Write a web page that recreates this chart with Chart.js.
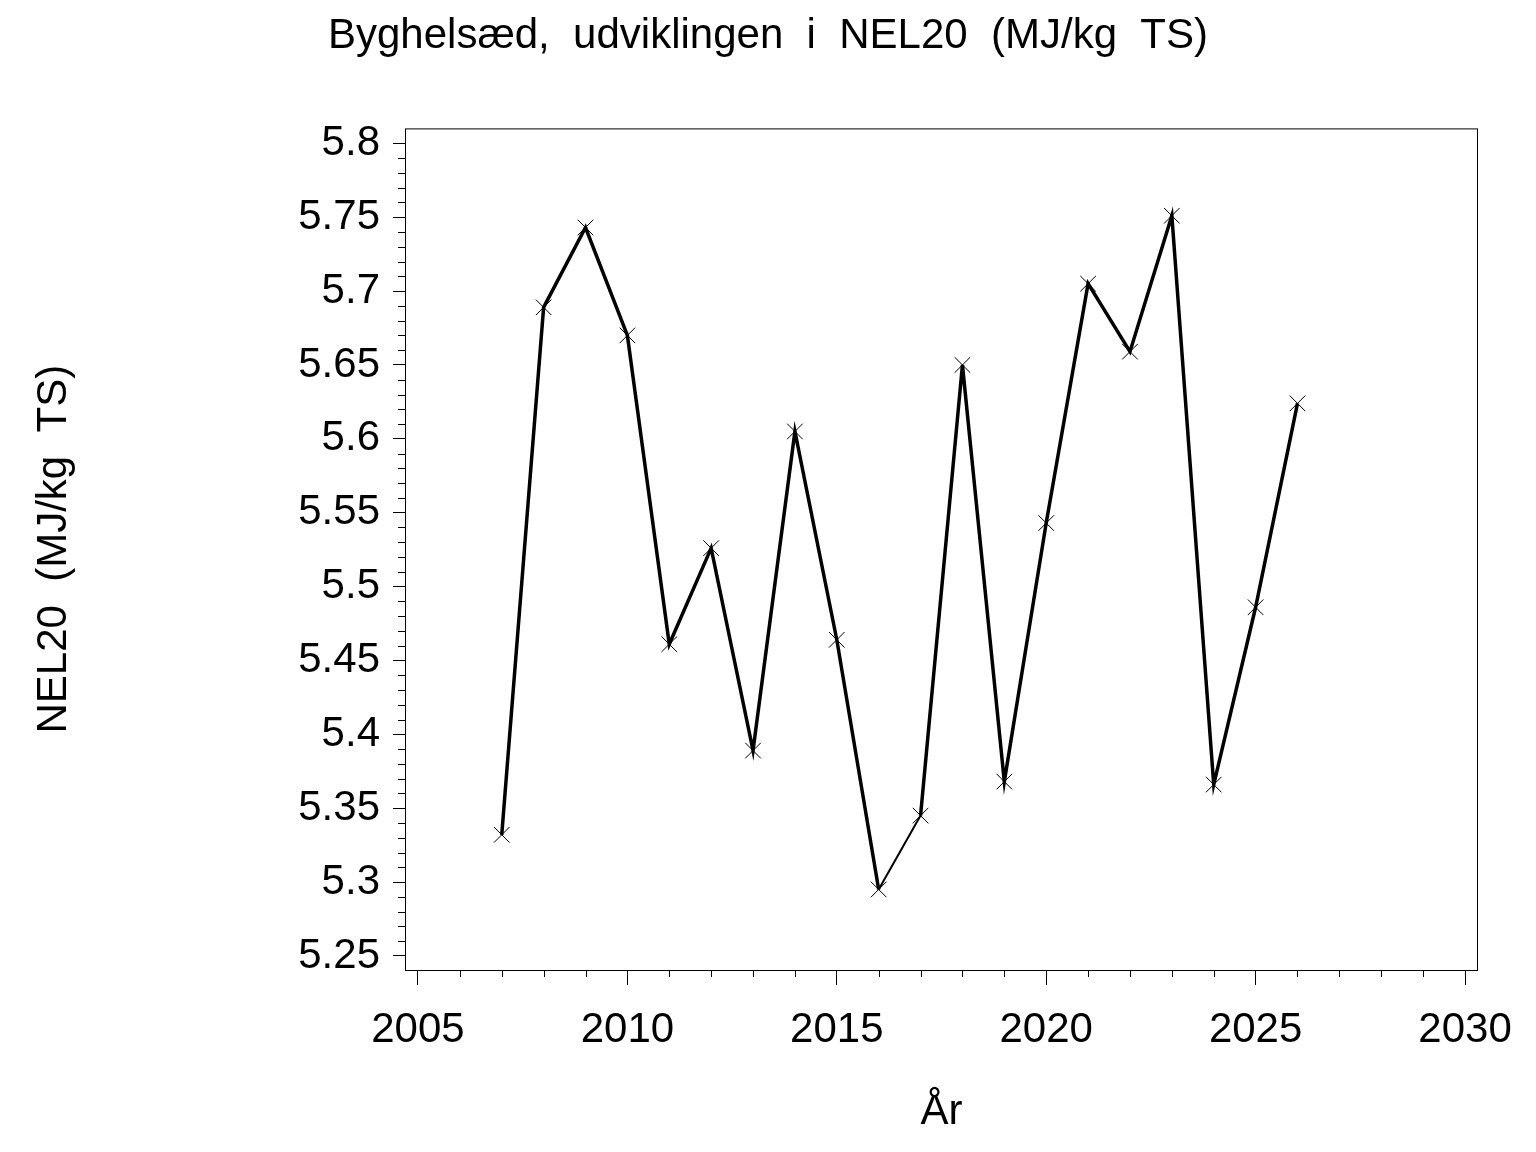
<!DOCTYPE html>
<html>
<head>
<meta charset="utf-8">
<script src="https://cdn.jsdelivr.net/npm/chart.js@4.4.1/dist/chart.umd.min.js"></script>
<style>
  html, body { margin: 0; padding: 0; background: #fff; }
  canvas { display: block; }
</style>
</head>
<body>
<canvas id="chart-nel" width="1536" height="1152"></canvas>
<script>
// data
const years = [2007, 2008, 2009, 2010, 2011, 2012, 2013, 2014, 2015, 2016,
               2017, 2018, 2019, 2020, 2021, 2022, 2023, 2024, 2025, 2026];
const nel20 = [5.332, 5.689, 5.743, 5.670, 5.461, 5.526, 5.389, 5.605, 5.464, 5.295,
               5.345, 5.650, 5.368, 5.543, 5.705, 5.659, 5.751, 5.366, 5.486, 5.624];
const xTicks = [2005, 2010, 2015, 2020, 2025, 2030];
const yTicks = [5.25, 5.3, 5.35, 5.4, 5.45, 5.5, 5.55, 5.6, 5.65, 5.7, 5.75, 5.8];

const titleText = 'Byghelsæd,  udviklingen  i  NEL20  (MJ/kg  TS)';
const yTitle = 'NEL20  (MJ/kg  TS)';
const xTitle = 'År';

const FONT = 'Liberation Sans, Arial, Helvetica, sans-serif';

// frame + minor ticks, sas-style
const framePlugin = {
  id: 'frame',
  beforeDatasetsDraw(chart) {
    const { ctx, chartArea: a, scales } = chart;
    ctx.save();
    ctx.strokeStyle = '#000';
    ctx.lineWidth = 1;
    ctx.strokeRect(a.left + 0.5, a.top + 0.5, a.right - a.left - 1, a.bottom - a.top);
    ctx.beginPath();
    for (let y = 2005; y <= 2030; y++) {
      if (y % 5 === 0) continue;
      const px = Math.round(scales.x.getPixelForValue(y)) + 0.5;
      ctx.moveTo(px, a.bottom);
      ctx.lineTo(px, a.bottom + 7);
    }
    for (let i = 525; i <= 580; i++) {
      if (i % 5 === 0) continue;
      const py = Math.round(scales.y.getPixelForValue(i / 100)) + 0.5;
      ctx.moveTo(a.left - 7, py);
      ctx.lineTo(a.left, py);
    }
    ctx.stroke();
    ctx.restore();
  }
};

const ctx = document.getElementById('chart-nel');
new Chart(ctx, {
  type: 'line',
  data: {
    datasets: [{
      label: 'NEL20',
      data: years.map((y, i) => ({ x: y, y: nel20[i] })),
      borderColor: '#000',
      borderWidth: 3.5,
      tension: 0,
      fill: false,
      pointStyle: 'crossRot',
      pointRadius: 11,
      pointBorderWidth: 1,
      pointBorderColor: '#000',
      segment: {
        borderWidth: c => (c.p0DataIndex === 9 ? 2 : 3.5)
      }
    }]
  },
  plugins: [framePlugin],
  options: {
    responsive: false,
    animation: false,
    devicePixelRatio: 1,
    layout: { padding: 0 },
    plugins: {
      legend: { display: false },
      tooltip: { enabled: false },
      title: {
        display: true,
        text: titleText,
        color: '#000',
        font: { family: FONT, size: 42, weight: 'normal' },
        padding: { top: 11, bottom: 67 }
      }
    },
    scales: {
      x: {
        type: 'linear',
        min: 2004.69,
        max: 2030.31,
        afterBuildTicks: s => { s.ticks = xTicks.map(v => ({ value: v })); },
        afterFit: s => { s.height = 182; },
        grid: { display: true, drawOnChartArea: false, drawTicks: true, tickLength: 15, color: '#000', lineWidth: 1 },
        border: { display: false },
        ticks: {
          color: '#000',
          font: { family: FONT, size: 42 },
          padding: 20,
          maxRotation: 0,
          callback: v => String(v)
        },
        title: {
          display: true,
          text: xTitle,
          color: '#000',
          font: { family: FONT, size: 42 },
          padding: { top: 0, bottom: 14 }
        }
      },
      y: {
        type: 'linear',
        min: 5.2405,
        max: 5.8101,
        afterBuildTicks: s => { s.ticks = yTicks.map(v => ({ value: v })); },
        afterFit: s => { s.width = 405; },
        grid: { display: true, drawOnChartArea: false, drawTicks: true, tickLength: 12, color: '#000', lineWidth: 1 },
        border: { display: false },
        ticks: {
          color: '#000',
          font: { family: FONT, size: 42 },
          padding: 13,
          callback: v => String(Number(v.toFixed(2)))
        },
        title: {
          display: true,
          text: yTitle,
          color: '#000',
          font: { family: FONT, size: 42 },
          padding: { top: 29, bottom: 0 }
        }
      },
      // empty right margin so the title centres on the page
      yRight: {
        type: 'linear',
        position: 'right',
        display: true,
        afterFit: s => { s.width = 58; },
        grid: { display: false },
        border: { display: false },
        ticks: { display: false }
      }
    }
  }
});
</script>
</body>
</html>
